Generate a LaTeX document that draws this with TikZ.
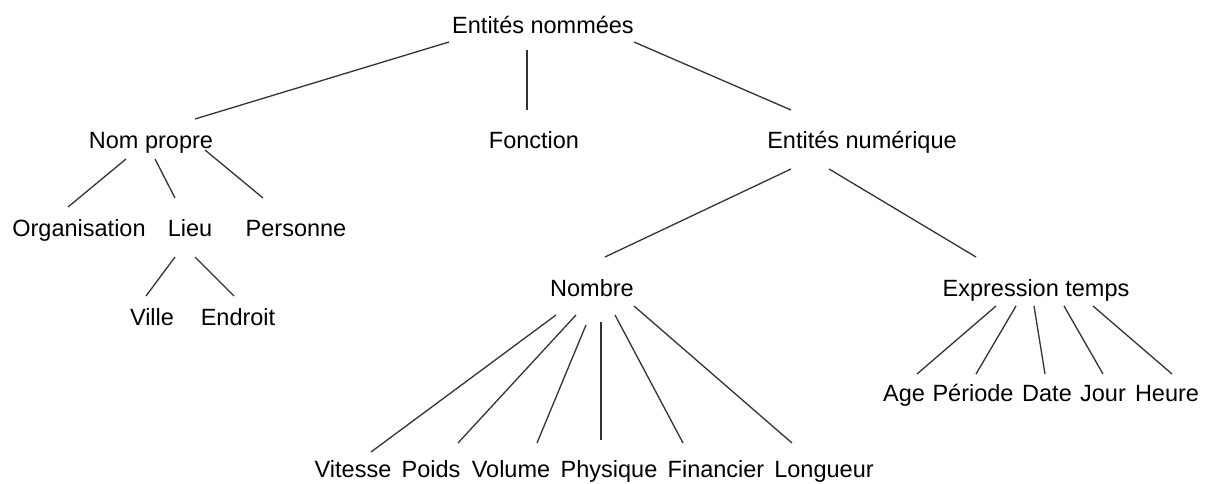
\documentclass[tikz,border=0pt]{standalone}
\usepackage{fontspec}
\setmainfont{Liberation Sans}
\begin{document}
\begin{tikzpicture}[x=1pt,y=-1pt,
  lbl/.style={anchor=base,inner sep=0pt,font=\fontsize{23.5}{28}\selectfont,text=black},
  edge/.style={draw=black!80,line width=1.3pt}]
\useasboundingbox[fill=white] (0,0) rectangle (1207,484);

% level 0 and 1
\node[lbl] (en)   at (543,34)  {Entités nommées};
\node[lbl] (np)   at (151,148) {Nom propre};
\node[lbl] (fo)   at (534,148) {Fonction};
\node[lbl] (enu)  at (862,148) {Entités numérique};

% proper names
\node[lbl] (org)  at (79,236)  {Organisation};
\node[lbl] (lieu) at (190,236) {Lieu};
\node[lbl] (pers) at (296,236) {Personne};
\node[lbl] (ville)   at (152,325) {Ville};
\node[lbl] (endroit) at (238,325) {Endroit};

% numeric entities
\node[lbl] (nombre) at (592,296)  {Nombre};
\node[lbl] (expr)   at (1036,296) {Expression temps};

\node[lbl] (vitesse)   at (353,477) {Vitesse};
\node[lbl] (poids)     at (431,477) {Poids};
\node[lbl] (volume)    at (511,477) {Volume};
\node[lbl] (physique)  at (609,477) {Physique};
\node[lbl] (financier) at (716,477) {Financier};
\node[lbl] (longueur)  at (824,477) {Longueur};

\node[lbl] (age)     at (904,401)  {Age};
\node[lbl] (periode) at (973,401)  {Période};
\node[lbl] (date)    at (1047,401) {Date};
\node[lbl] (jour)    at (1103,401) {Jour};
\node[lbl] (heure)   at (1167,401) {Heure};

% connectors
\draw[edge] ([shift={(-94,8)}]en.base)  -- ([shift={(44,-29)}]np.base);
\draw[edge] ([shift={(-16,16)}]en.base) -- ([shift={(-7,-38)}]fo.base);
\draw[edge] ([shift={(91,8)}]en.base)   -- ([shift={(-71,-38)}]enu.base);

\draw[edge] ([shift={(-25,11)}]np.base) -- ([shift={(-11,-29)}]org.base);
\draw[edge] ([shift={(4,11)}]np.base)   -- ([shift={(-15,-38)}]lieu.base);
\draw[edge] ([shift={(54,2)}]np.base)   -- ([shift={(-33,-38)}]pers.base);

\draw[edge] ([shift={(-15,21)}]lieu.base) -- ([shift={(-6,-29)}]ville.base);
\draw[edge] ([shift={(5,21)}]lieu.base)   -- ([shift={(-4,-29)}]endroit.base);

\draw[edge] ([shift={(-71,21)}]enu.base) -- ([shift={(13,-39)}]nombre.base);
\draw[edge] ([shift={(-33,21)}]enu.base) -- ([shift={(-60,-39)}]expr.base);

\draw[edge] ([shift={(-36,19)}]nombre.base) -- ([shift={(18,-25)}]vitesse.base);
\draw[edge] ([shift={(-16,19)}]nombre.base) -- ([shift={(27,-34)}]poids.base);
\draw[edge] ([shift={(-6,29)}]nombre.base)  -- ([shift={(26,-34)}]volume.base);
\draw[edge] ([shift={(9,26)}]nombre.base)   -- ([shift={(-8,-37)}]physique.base);
\draw[edge] ([shift={(23,19)}]nombre.base)  -- ([shift={(-33,-34)}]financier.base);
\draw[edge] ([shift={(42,10)}]nombre.base)  -- ([shift={(-32,-34)}]longueur.base);

\draw[edge] ([shift={(-40,10)}]expr.base) -- ([shift={(13,-27)}]age.base);
\draw[edge] ([shift={(-20,10)}]expr.base) -- ([shift={(3,-27)}]periode.base);
\draw[edge] ([shift={(-2,10)}]expr.base)  -- ([shift={(-2,-27)}]date.base);
\draw[edge] ([shift={(28,10)}]expr.base)  -- ([shift={(0,-27)}]jour.base);
\draw[edge] ([shift={(57,10)}]expr.base)  -- ([shift={(5,-27)}]heure.base);
\end{tikzpicture}
\end{document}
